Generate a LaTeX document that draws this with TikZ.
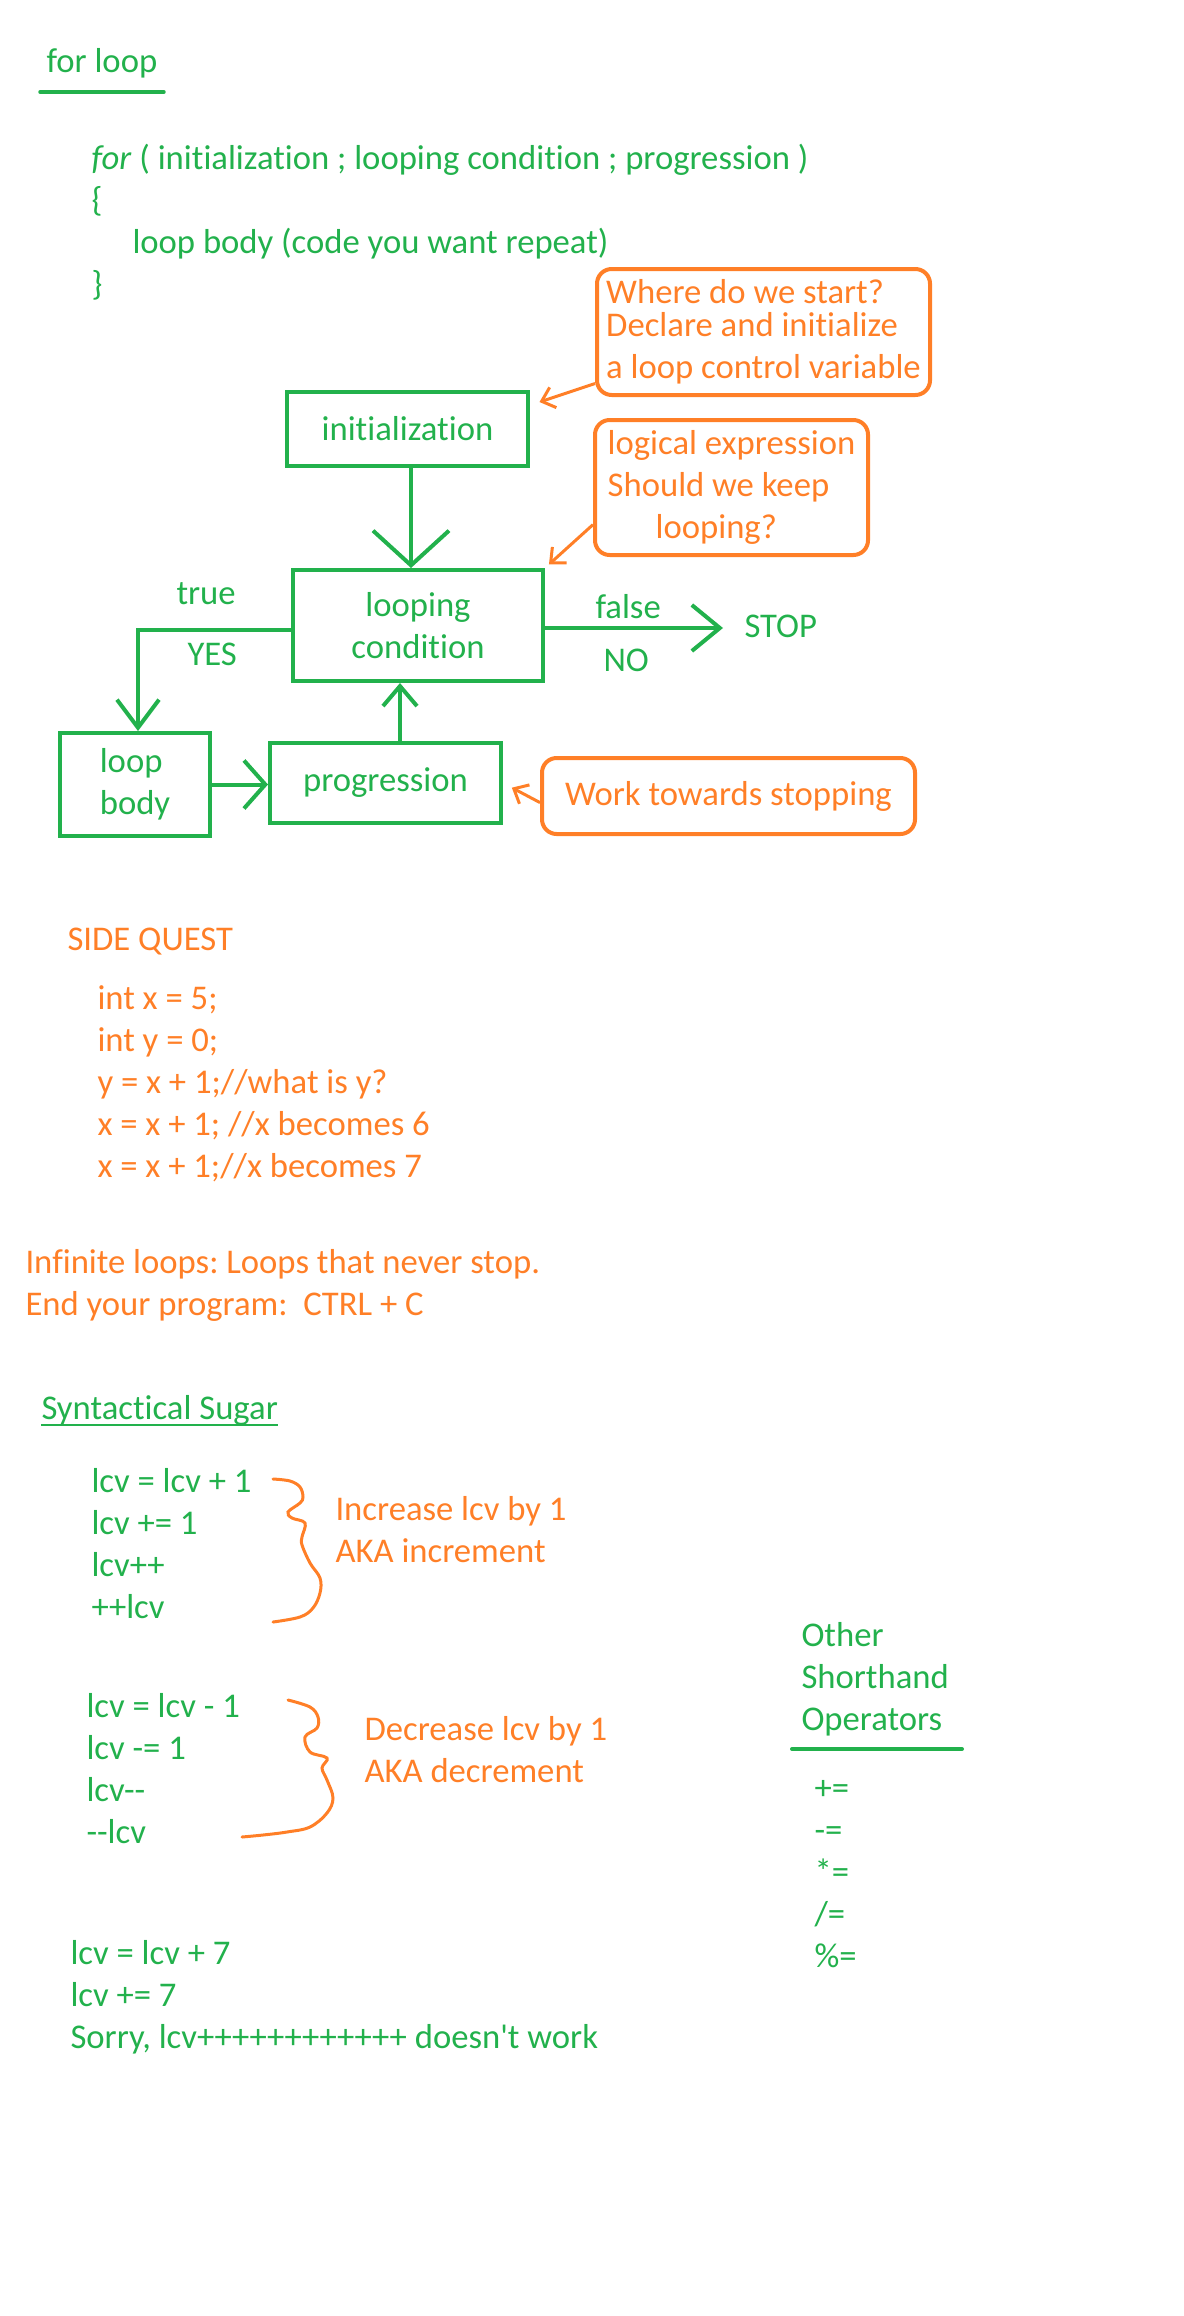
\documentclass[tikz,border=0pt]{standalone}
\usepackage{fontspec}
\setmainfont{Carlito}[Ligatures={TeXOff,NoCommon}]
\usetikzlibrary{arrows.meta}
\frenchspacing

\definecolor{pgreen}{RGB}{34,177,76}
\definecolor{porange}{RGB}{255,127,39}

\tikzset{every picture/.style={line width=0.75pt}}
\tikzset{
  every node/.style={font=\fontsize{26}{31.5}\selectfont},
  gtext/.style={text=pgreen, inner sep=0pt, anchor=base west, align=left},
  otext/.style={text=porange, inner sep=0pt, anchor=base west, align=left},
  gbox/.style={draw=pgreen, line width=3pt, text=pgreen, inner sep=0pt},
  obox/.style={draw=porange, line width=3pt, text=porange, rounded corners=11pt, inner sep=0pt, align=left},
  gline/.style={draw=pgreen, line width=3pt},
  gtip/.style 2 args={-{Straight Barb[length=#1,width=#2]}},
  oarrow/.style={draw=porange, line width=2.25pt, -{Straight Barb[length=9pt,width=16pt]}},
  oline/.style={draw=porange, line width=2.25pt, line cap=round},
}

\begin{document}
\begin{tikzpicture}[x=0.75pt,y=0.75pt,yscale=-1,xscale=1]
	\useasboundingbox (0,0) rectangle (1184,2316);

	% Title
	\node[gtext] (title) at (46,73) {for loop};
	\draw[pgreen, line width=2.6pt, line cap=round] (40,92) -- (164,92);
	% Syntax
	\node[gtext] (forcode) at (91,295) {\textit{for} ( initialization ; looping condition ; progression )\\\{\\\hspace*{30.75pt}loop body (code you want repeat)\\\}};

	% Flow boxes
	\node[gbox, minimum width=180.75pt, minimum height=55.5pt] (init) at (407.5,429) {initialization};
	\node[gbox, minimum width=187.5pt, minimum height=83.25pt, align=center] (cond) at (418,625.5) {looping\\condition};
	\node[gbox, minimum width=112.5pt, minimum height=77.25pt, align=left] (body) at (135,784.5) {loop\\body};
	\node[gbox, minimum width=173.25pt, minimum height=60pt] (prog) at (385.5,783) {progression};
	\node[gtext] (stop) at (744,637) {STOP};

	% Callouts
	\node[obox, minimum width=249.75pt, minimum height=94.5pt] (where) at (763.5,332) {Where do we start?\\[-7pt]Declare and initialize\\a loop control variable};
	\node[obox, minimum width=204.75pt, minimum height=101.25pt] (logic) at (731.5,487.5) {logical expression\\Should we keep\\\hspace*{36pt}looping?};
	\node[obox, minimum width=279.75pt, minimum height=57pt] (work) at (728.5,796) {Work towards stopping};

	% Branch labels
	\node[gtext] (truelbl) at (176,604) {true};
	\node[gtext] (yeslbl) at (187,665) {YES};
	\node[gtext] (falselbl) at (595,618) {false};
	\node[gtext] (nolbl) at (603,671) {NO};

	% Connections
	\coordinate (downx) at (411,500);
	\coordinate (yesy) at (138,630);
	\coordinate (upx) at (400,700);
	\coordinate (nogo) at (723,628);
	\draw[gline, gtip={26pt}{57pt}] (init.south -| downx) -- (cond.north -| downx);
	\draw[gline, gtip={21pt}{31.5pt}] (cond.west |- yesy) -| (yesy |- body.north);
	\draw[gline, gtip={16pt}{36pt}] (body.east) -- (body.east -| prog.west);
	\draw[gline, gtip={15pt}{25.5pt}] (prog.north -| upx) -- (cond.south -| upx);
	\draw[gline, gtip={21pt}{34.5pt}] (cond.east |- nogo) -- (nogo);
	\draw[oarrow, shorten >=7.5pt] (where.197) -- (init.11);
	\draw[oarrow, shorten >=4pt] (logic.195) -- (cond.north east);
	\draw[oarrow, shorten >=7.5pt] (work.182) -- (prog.east);

	% Side quest
	\node[otext] (quest) at (67,950) {SIDE QUEST};
	\node[otext] (questcode) at (97,1177) {int x = 5;\\int y = 0;\\y = x + 1;//what is y?\\x = x + 1; //x becomes 6\\x = x + 1;//x becomes 7};
	\node[otext] (infinite) at (25,1315) {Infinite loops: Loops that never stop.\\End your program:\ \ CTRL + C};

	% Syntactical sugar
	\node[gtext] (sugar) at (41,1419) {Syntactical Sugar};
	\draw[pgreen, line width=1.5pt] (sugar.south west) -- (sugar.south east);
	\node[gtext] (incr) at (91,1618) {lcv = lcv + 1\\lcv += 1\\lcv++\\++lcv};
	\draw[oline] plot[smooth, tension=0.6] coordinates {(273,1479) (290,1481) (300,1487) (303,1497) (300,1503) (288,1512) (292,1518) (305,1523) (302,1537) (302,1545) (310,1563) (320,1578) (320,1593) (313,1608) (300,1617) (273,1622)};
	\node[otext] (incnote) at (335,1562) {Increase lcv by 1\\AKA increment};
	\node[gtext] (decr) at (86,1843) {lcv = lcv - 1\\lcv -= 1\\lcv--\\--lcv};
	\draw[oline] plot[smooth, tension=0.6] coordinates {(288,1700) (310,1707) (318,1717) (317,1728) (305,1737) (310,1752) (327,1758) (322,1768) (327,1780) (333,1798) (327,1813) (310,1827) (287,1832) (263,1835) (242,1837)};
	\node[otext] (decnote) at (364,1782) {Decrease lcv by 1\\AKA decrement};

	% Other operators
	\node[gtext] (other) at (801,1730) {Other\\Shorthand\\Operators};
	\draw[pgreen, line width=3pt, line cap=round] (792,1749) -- (962,1749);
	\node[gtext] (ops) at (814,1967) {+=\\-=\\*=\\/=\\\%=};

	\node[gtext] (seven) at (70,2048) {lcv = lcv + 7\\lcv += 7\\Sorry, lcv++++++++++++ doesn't work};

\end{tikzpicture}
\end{document}
